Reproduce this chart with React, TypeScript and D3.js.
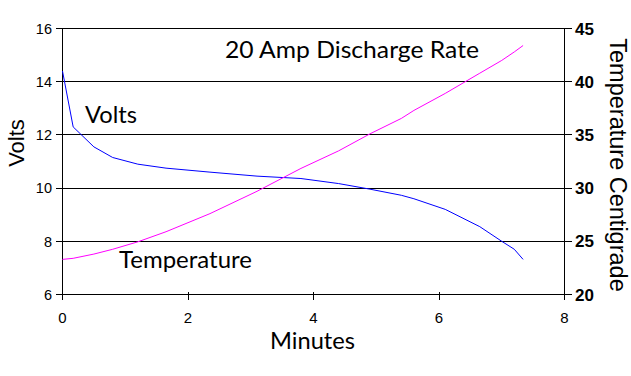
import React from "react";
import * as d3 from "d3";

const minutes = [0, 0.17, 0.5, 0.8, 1.2, 1.65, 2.35, 3.1, 3.8, 4.4, 4.9, 5.4, 5.6, 6.1, 6.65, 7.0, 7.2, 7.34];
const volts = [14.4, 12.3, 11.55, 11.15, 10.9, 10.75, 10.6, 10.45, 10.36, 10.17, 9.96, 9.73, 9.6, 9.2, 8.55, 8.0, 7.7, 7.32];
const temps = [23.3, 23.4, 23.8, 24.25, 24.95, 25.9, 27.6, 29.7, 31.85, 33.5, 35.1, 36.55, 37.3, 38.9, 40.8, 42.0, 42.8, 43.4];
const voltTicks = [6, 8, 10, 12, 14, 16];
const tempTicks = [20, 25, 30, 35, 40, 45];
const minuteTicks = [0, 2, 4, 6, 8];

const W = 631, H = 376;
const FONT = "Lato, 'Open Sans', sans-serif";
const TICKFONT = "'Liberation Sans', Arial, sans-serif";

export default function App() {
  const x = d3.scaleLinear().domain([0, 8]).range([62.5, 564.5]);
  const yV = d3.scaleLinear().domain([6, 16]).range([294.5, 28.5]);
  const yT = d3.scaleLinear().domain([20, 45]).range([294.5, 28.5]);
  const vLine = d3.line<number>().x((_, i) => x(minutes[i])).y((d) => yV(d));
  const tLine = d3.line<number>().x((_, i) => x(minutes[i])).y((d) => yT(d));
  const x0 = x(0), x1 = x(8), yb = yV(6), yt = yV(16);

  return (
    <svg width={W} height={H} style={{ position: "absolute", left: 0, top: 0, background: "#fff" }}>
      <rect x={0} y={0} width={W} height={H} fill="#fff" />
      <g shapeRendering="crispEdges" stroke="#000" strokeWidth={1}>
        {voltTicks.map((v) => (
          <line key={"g" + v} x1={x0 - 7} x2={x1 + 7} y1={yV(v)} y2={yV(v)} />
        ))}
        <line x1={x0} x2={x0} y1={yt} y2={yb + 5} />
        <line x1={x1} x2={x1} y1={yt} y2={yb + 5} />
        {minuteTicks.map((m) => (
          <line key={"xt" + m} x1={x(m)} x2={x(m)} y1={yb - 3} y2={yb + 5} />
        ))}
      </g>
      <path d={vLine(volts) || ""} fill="none" stroke="#0000ff" strokeWidth={1} />
      <path d={tLine(temps) || ""} fill="none" stroke="#ff00ff" strokeWidth={1} />
      <g fontFamily={TICKFONT} fontSize={14.5} fill="#000">
        {voltTicks.map((v) => (
          <text key={"vl" + v} x={52} y={yV(v)} dy="0.36em" textAnchor="end">{v}</text>
        ))}
      </g>
      <g fontFamily={TICKFONT} fontSize={17} fontWeight="bold" fill="#000">
        {tempTicks.map((t) => (
          <text key={"tl" + t} x={575} y={yT(t)} dy="0.36em" textAnchor="start">{t}</text>
        ))}
      </g>
      <g fontFamily={TICKFONT} fontSize={15} fill="#000">
        {minuteTicks.map((m) => (
          <text key={"ml" + m} x={x(m)} y={323} textAnchor="middle">{m}</text>
        ))}
      </g>
      <g fontFamily={FONT} fill="#000">
        <text x={225} y={58} fontSize={23} textLength={254} lengthAdjust="spacingAndGlyphs">20 Amp Discharge Rate</text>
        <text x={85} y={123} fontSize={23} textLength={52} lengthAdjust="spacingAndGlyphs">Volts</text>
        <text x={119} y={268} fontSize={22.5} textLength={133} lengthAdjust="spacingAndGlyphs">Temperature</text>
        <text x={270} y={349} fontSize={23} textLength={85} lengthAdjust="spacingAndGlyphs">Minutes</text>
      </g>
      <g fontFamily={TICKFONT} fill="#000">
        <text transform="translate(24,143) rotate(-90)" textAnchor="middle" fontSize={22}>Volts</text>
        <text transform="translate(610,165) rotate(90)" textAnchor="middle" fontSize={23.5}>Temperature Centigrade</text>
      </g>
    </svg>
  );
}
